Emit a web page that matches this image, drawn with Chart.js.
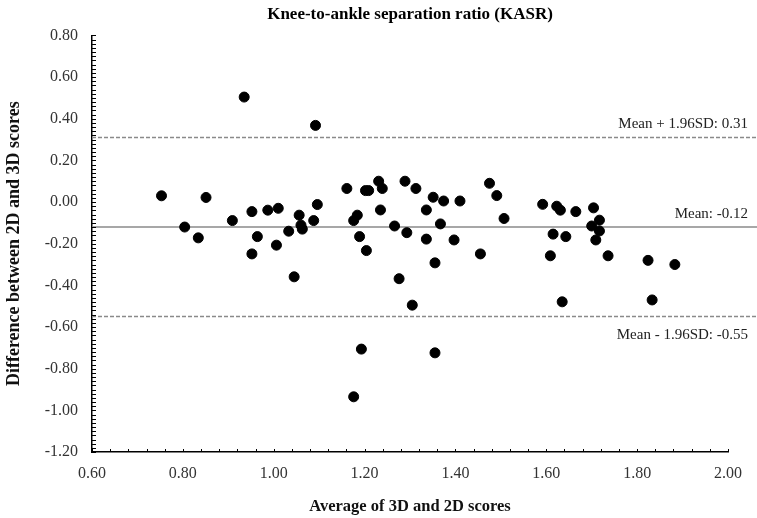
<!DOCTYPE html>
<html>
<head>
<meta charset="utf-8">
<script src="https://cdn.jsdelivr.net/npm/chart.js@4.4.0/dist/chart.umd.min.js"></script>
<style>
  html, body { margin: 0; padding: 0; background: #fff; }
  #wrap { width: 757px; height: 518px; }
</style>
</head>
<body>
<div id="wrap"><canvas id="kasrChart" width="757" height="518"></canvas></div>
<script>
// Bland-Altman plot data
const avgScores = [
    0.753, 0.804, 0.834, 0.851, 0.909, 0.935, 0.952, 0.952, 0.964, 0.987,
    1.006, 1.010, 1.033, 1.045, 1.056, 1.060, 1.063, 1.088, 1.092, 1.096,
    1.161, 1.176, 1.176, 1.184, 1.189, 1.193, 1.202, 1.204, 1.209, 1.231,
    1.235, 1.239, 1.266, 1.276, 1.289, 1.293, 1.305, 1.313, 1.336, 1.336,
    1.351, 1.355, 1.355, 1.367, 1.374, 1.397, 1.410, 1.455, 1.475, 1.491,
    1.507, 1.592, 1.609, 1.615, 1.623, 1.631, 1.635, 1.643, 1.665, 1.700,
    1.704, 1.709, 1.717, 1.717, 1.736, 1.824, 1.833, 1.883
];
const diffScores = [
    0.030, -0.120, -0.172, 0.022, -0.089, 0.504, -0.046, -0.249, -0.166, -0.039,
    -0.207, -0.030, -0.140, -0.359, -0.063, -0.111, -0.130, -0.089, 0.368, -0.012,
    0.065, -0.089, -0.935, -0.063, -0.166, -0.706, 0.055, -0.233, 0.055, 0.100,
    -0.038, 0.065, -0.115, -0.368, 0.100, -0.147, -0.495, 0.065, -0.038, -0.178,
    0.023, -0.292, -0.724, -0.105, 0.005, -0.182, 0.005, -0.249, 0.090, 0.031,
    -0.079, -0.011, -0.258, -0.154, -0.020, -0.039, -0.479, -0.166, -0.046, -0.115,
    -0.028, -0.182, -0.087, -0.139, -0.258, -0.280, -0.470, -0.300
];

const meanDiff = -0.12;
const upperLoA = 0.31;
const lowerLoA = -0.55;
const refLineX = [0.60, 2.064];   // reference lines run past the axis end

const xRange = [0.60, 2.00];
const yRange = [-1.20, 0.80];

const serif = "'Liberation Serif', 'DejaVu Serif', serif";

function fmtTick(value) {
    if (Math.abs(value) < 1e-9) value = 0;
    // only label every 0.20, the rest are minor ticks
    const k = value * 5;
    if (Math.abs(k - Math.round(k)) > 1e-6) return '';
    return value.toFixed(2);
}

// inward tick marks on both axes
const innerTicks = {
    id: 'innerTicks',
    afterDraw(chart) {
        const ctx = chart.ctx;
        const area = chart.chartArea;
        const xs = chart.scales.x;
        const ys = chart.scales.y;
        ctx.save();
        ctx.strokeStyle = '#000';
        ctx.lineWidth = 1;
        ctx.beginPath();
        xs.ticks.forEach(t => {
            const px = Math.round(xs.getPixelForValue(t.value)) + 0.5;
            ctx.moveTo(px, area.bottom);
            ctx.lineTo(px, area.bottom - 3);
        });
        ys.ticks.forEach(t => {
            const py = Math.round(ys.getPixelForValue(t.value)) + 0.5;
            ctx.moveTo(area.left, py);
            ctx.lineTo(area.left + 4, py);
        });
        ctx.stroke();
        ctx.restore();
    }
};

// text labels for mean and limits of agreement
const loaLabels = {
    id: 'loaLabels',
    afterDatasetsDraw(chart) {
        const ctx = chart.ctx;
        const ys = chart.scales.y;
        const right = 748;
        ctx.save();
        ctx.font = '15px ' + serif;
        ctx.fillStyle = '#222';
        ctx.textAlign = 'right';
        ctx.textBaseline = 'alphabetic';
        ctx.fillText('Mean + 1.96SD: ' + upperLoA.toFixed(2), right, ys.getPixelForValue(upperLoA) - 9);
        ctx.fillText('Mean: ' + meanDiff.toFixed(2), right, ys.getPixelForValue(meanDiff) - 9);
        ctx.fillText('Mean - 1.96SD: ' + lowerLoA.toFixed(2), right, ys.getPixelForValue(lowerLoA) + 22);
        ctx.restore();
    }
};

const points = avgScores.map((x, i) => ({ x: x, y: diffScores[i] }));

const ctx = document.getElementById('kasrChart').getContext('2d');
new Chart(ctx, {
    type: 'scatter',
    data: {
        datasets: [
            {
                label: 'Upper LoA',
                type: 'line',
                data: refLineX.map(x => ({ x: x, y: upperLoA })),
                borderColor: '#8a8a8a',
                borderWidth: 1.5,
                borderDash: [4, 2],
                pointRadius: 0,
                clip: false,
                order: 2
            },
            {
                label: 'Mean',
                type: 'line',
                data: refLineX.map(x => ({ x: x, y: meanDiff })),
                borderColor: '#8a8a8a',
                borderWidth: 1.5,
                pointRadius: 0,
                clip: false,
                order: 2
            },
            {
                label: 'Lower LoA',
                type: 'line',
                data: refLineX.map(x => ({ x: x, y: lowerLoA })),
                borderColor: '#8a8a8a',
                borderWidth: 1.5,
                borderDash: [4, 2],
                pointRadius: 0,
                clip: false,
                order: 2
            },
            {
                label: 'Difference',
                data: points,
                backgroundColor: '#000',
                borderColor: '#000',
                pointRadius: 5,
                pointHoverRadius: 5,
                order: 1
            }
        ]
    },
    options: {
        responsive: false,
        animation: false,
        events: [],
        layout: { padding: { left: 0, right: 29, top: 0, bottom: 0 } },
        plugins: {
            legend: { display: false },
            tooltip: { enabled: false },
            title: {
                display: true,
                fullSize: false,
                text: 'Knee-to-ankle separation ratio (KASR)',
                color: '#000',
                font: { family: serif, size: 17, weight: 'bold' },
                padding: { top: 4, bottom: 11 }
            }
        },
        scales: {
            x: {
                type: 'linear',
                min: xRange[0],
                max: xRange[1],
                afterFit(scale) { scale.height = 66; },
                ticks: {
                    stepSize: 0.04,
                    autoSkip: false,
                    maxRotation: 0,
                    padding: 12,
                    color: '#333',
                    font: { family: serif, size: 16 },
                    callback: fmtTick
                },
                grid: { drawOnChartArea: false, drawTicks: false },
                border: { display: true, color: '#000', width: 1.5 },
                title: {
                    display: true,
                    text: 'Average of 3D and 2D scores',
                    color: '#111',
                    font: { family: serif, size: 16.5, weight: 'bold' },
                    padding: { top: 0, bottom: 1 }
                }
            },
            y: {
                type: 'linear',
                min: yRange[0],
                max: yRange[1],
                afterFit(scale) { scale.width = 92; },
                ticks: {
                    stepSize: 0.02,
                    autoSkip: false,
                    padding: 14,
                    color: '#333',
                    font: { family: serif, size: 16 },
                    callback: fmtTick
                },
                grid: { drawOnChartArea: false, drawTicks: false },
                border: { display: true, color: '#000', width: 1.5 },
                title: {
                    display: true,
                    text: 'Difference between 2D and 3D scores',
                    color: '#111',
                    font: { family: serif, size: 18, weight: 'bold' },
                    padding: { top: 4, bottom: 0 }
                }
            }
        }
    },
    plugins: [innerTicks, loaLabels]
});
</script>
</body>
</html>
